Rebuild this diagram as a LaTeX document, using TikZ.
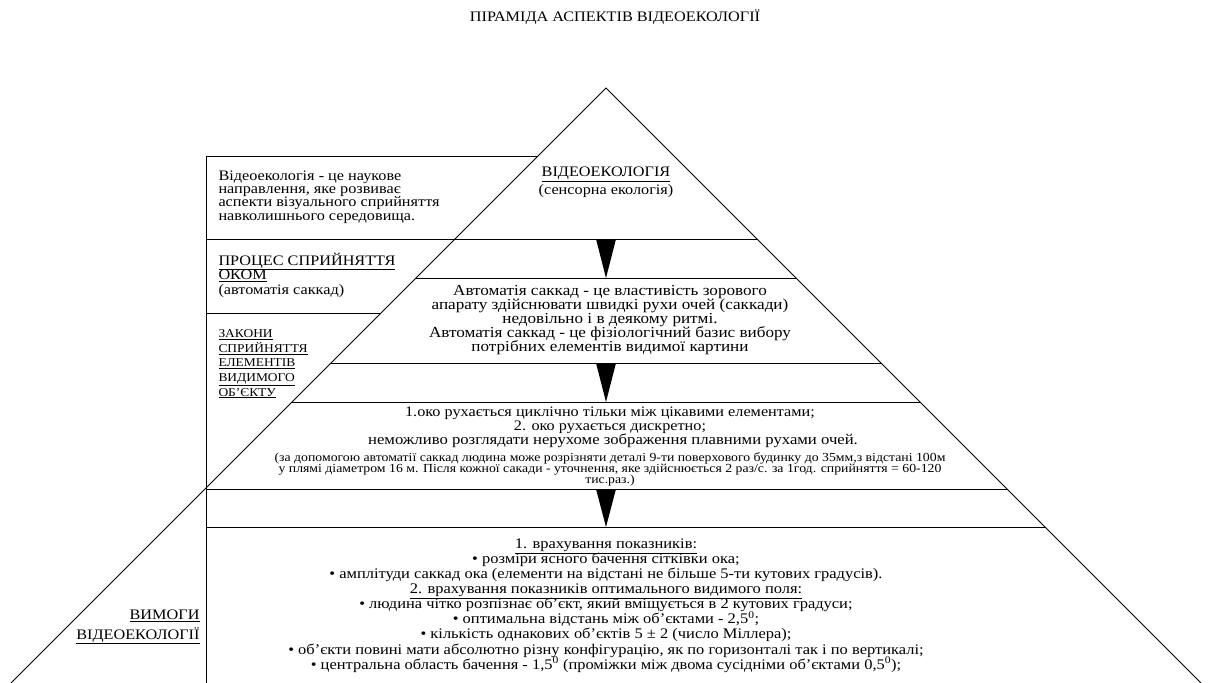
\documentclass[tikz,border=0pt]{standalone}
\usepackage{fontspec}
\setmainfont{Liberation Serif}[FakeStretch=1.12]
\setlength{\lineskiplimit}{-100pt}

\begin{document}
\begin{tikzpicture}[x=1pt,y=-1pt,line width=1pt]
\tikzstyle{txt}=[inner sep=0pt,align=center,font=\fontsize{14.5}{14}\selectfont]
\tikzstyle{side}=[inner sep=0pt,align=left,anchor=west,font=\fontsize{14.5}{13.3}\selectfont]
\tikzstyle{down}=[fill=black]

\useasboundingbox (0,0) rectangle (1208,683);

\coordinate (apex) at (606,88);
\coordinate (baseL) at (11,683);
\coordinate (baseR) at (1201,683);

% pyramid and the boxes on its left
\draw (baseL) -- (apex) -- (baseR);
\draw (206,156) -- (206,683);
\draw (206,156) -- (538,156);
\draw (206,239) -- (757,239);
\draw (416,278) -- (796,278);
\draw (206,313) -- (381,313);
\draw (331,363) -- (881,363);
\draw (292,402) -- (920,402);
\draw (206,489) -- (1007,489);
\draw (206,527) -- (1045,527);

\node [txt] (title) at (615,17) {ПІРАМІДА АСПЕКТІВ ВІДЕОЕКОЛОГІЇ};

\node [txt,font=\fontsize{14.5}{17.5}\selectfont] (top) at (606,182) {\underline{ВІДЕОЕКОЛОГІЯ}\\(сенсорна екологія)};

\node [side] (def) at (218,197) {Відеоекологія - це наукове\\направлення, яке розвиває\\аспекти візуального сприйняття\\навколишнього середовища.};

\node [side,font=\fontsize{14.5}{14.5}\selectfont] (process) at (218,275)
  {\underline{ПРОЦЕС СПРИЙНЯТТЯ}\\\underline{ОКОМ}\\(автоматія саккад)};

\node [side,font=\fontsize{12}{14.6}\selectfont] (laws) at (218,364)
  {\underline{ЗАКОНИ}\\\underline{СПРИЙНЯТТЯ}\\\underline{ЕЛЕМЕНТІВ}\\\underline{ВИДИМОГО}\\\underline{ОБ'ЄКТУ}};

\node [txt,font=\fontsize{15.3}{14}\selectfont] (saccade) at (610,320)
  {Автоматія саккад - це властивість зорового\\апарату здійснювати швидкі рухи очей (саккади)\\недовільно і в деякому ритмі.\\Автоматія саккад - це фізіологічний базис вибору\\потрібних елементів видимої картини};

\node [txt] (motion) at (610,420)
  {1.око рухається циклічно тільки між цікавими елементами;\\2. око рухається дискретно;};
\node [txt,font=\fontsize{14.9}{14}\selectfont] (still) at (613,441)
  {неможливо розглядати нерухоме зображення плавними рухами очей.};
\node [txt,font=\fontsize{12.3}{11}\selectfont] (detail) at (610,469)
  {(за допомогою автоматії саккад людина може розрізняти деталі 9-ти поверхового будинку до 35мм,з відстані 100м\\у плямі діаметром 16 м. Після кожної сакади - уточнення, яке здійснюється 2 раз/с. за 1год. сприйняття = 60-120\\тис.раз.)};

\node [txt,font=\fontsize{14.7}{15.1}\selectfont] (rules) at (606,605.5)
  {\underline{1. врахування показників:}\\
   • розміри ясного бачення сітківки ока;\\
   • амплітуди саккад ока (елементи на відстані не більше 5-ти кутових градусів).\\
   \underline{2. врахування показників оптимального видимого поля:}\\
   • людина чітко розпізнає об'єкт, який вміщується в 2 кутових градуси;\\
   • оптимальна відстань між об'єктами - 2,5\textsuperscript{0};\\
   • кількість однакових об'єктів 5 ± 2 (число Міллера);\\
   • об'єкти повині мати абсолютно різну конфігурацію, як по горизонталі так і по вертикалі;\\
   • центральна область бачення - 1,5\textsuperscript{0} (проміжки між двома сусідніми об'єктами 0,5\textsuperscript{0});};

\node [txt,align=right,anchor=east,font=\fontsize{14.5}{19.5}\selectfont] (demands) at (200,627)
  {\underline{ВИМОГИ}\\\underline{ВІДЕОЕКОЛОГІЇ}};

% arrows between the levels
\coordinate (a1) at (606,239);
\coordinate (b1) at (606,278);
\coordinate (a2) at (606,363);
\coordinate (b2) at (606,402);
\coordinate (a3) at (606,489);
\coordinate (b3) at (606,527);
\fill [down] ([xshift=-10pt]a1) -- ([xshift=10pt]a1) -- (b1) -- cycle;
\fill [down] ([xshift=-10pt]a2) -- ([xshift=10pt]a2) -- (b2) -- cycle;
\fill [down] ([xshift=-10pt]a3) -- ([xshift=10pt]a3) -- (b3) -- cycle;

\end{tikzpicture}
\end{document}
